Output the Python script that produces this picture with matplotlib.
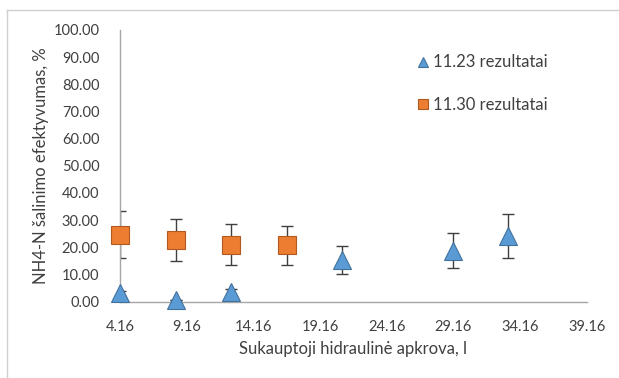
import matplotlib
matplotlib.use("Agg")
import matplotlib.pyplot as plt
from matplotlib.lines import Line2D

plt.rcParams.update({
    "font.family": ["Lato", "DejaVu Sans"],
    "font.size": 10.5,
})

# ---------------------------------------------------------------- data
x_1123 = [4.16, 8.32, 12.48, 20.80, 29.12, 33.28]
y_1123 = [3.0, 0.6, 3.5, 15.3, 18.8, 24.2]
err_1123 = [1.0, 0.0, 1.0, 5.3, 6.6, 8.2]

x_1130 = [4.16, 8.32, 12.48, 16.64]
y_1130 = [24.6, 22.8, 21.0, 20.7]
err_1130 = [8.7, 7.7, 7.4, 7.2]

xticks = [4.16, 9.16, 14.16, 19.16, 24.16, 29.16, 34.16, 39.16]
yticks = [0, 10, 20, 30, 40, 50, 60, 70, 80, 90, 100]

BLUE = "#5b9bd5"
BLUE_E = "#41719c"
ORANGE = "#ed7d31"
ORANGE_E = "#ae5a21"
AXIS_C = "#a6a6a6"
TEXT_C = "#404040"

fig = plt.figure(figsize=(6.19, 3.78), dpi=100)
ax = fig.add_axes([0.194, 0.202, 0.754, 0.719])

# light chart-area edge (only left and top visible in the original crop)
for xs, ys in [([0.012, 0.012], [0.0, 0.973]), ([0.012, 1.0], [0.973, 0.973])]:
    fig.lines.append(Line2D(xs, ys, transform=fig.transFigure,
                            color="#d0d0d0", linewidth=1.0))

ax.errorbar(x_1123, y_1123, yerr=err_1123, fmt="none", ecolor="#404040",
            elinewidth=1.0, capsize=4.2, capthick=1.0, zorder=2)
ax.errorbar(x_1130, y_1130, yerr=err_1130, fmt="none", ecolor="#404040",
            elinewidth=1.0, capsize=4.2, capthick=1.0, zorder=2)
ax.plot(x_1123, y_1123, "^", ms=13, color=BLUE, mec=BLUE_E, mew=0.8,
        linestyle="none", label="11.23 rezultatai", zorder=3, clip_on=False)
ax.plot(x_1130, y_1130, "s", ms=12.5, color=ORANGE, mec=ORANGE_E, mew=0.8,
        linestyle="none", label="11.30 rezultatai", zorder=3, clip_on=False)

ax.set_xlim(4.16, 39.16)
ax.set_ylim(0, 100)
ax.set_xticks(xticks)
ax.set_xticklabels([f"{t:.2f}" for t in xticks])
ax.set_yticks(yticks)
ax.set_yticklabels([f"{t:.2f}" for t in yticks])
ax.tick_params(length=0, colors=TEXT_C, labelsize=10.5)
ax.tick_params(axis="x", pad=13)
ax.tick_params(axis="y", pad=15)

for s in ["top", "right"]:
    ax.spines[s].set_visible(False)
for s in ["left", "bottom"]:
    ax.spines[s].set_color(AXIS_C)
    ax.spines[s].set_linewidth(1.0)

ax.set_xlabel("Sukauptoji hidraulinė apkrova, l", color=TEXT_C, fontsize=12, labelpad=5)
ax.set_ylabel("NH4-N šalinimo efektyvumas, %", color=TEXT_C, fontsize=12, labelpad=3)

leg = ax.legend(loc="upper left", bbox_to_anchor=(0.6, 0.965), frameon=False,
                labelspacing=1.6, handletextpad=0.1, markerscale=0.55,
                fontsize=12, handlelength=1.0)
for t in leg.get_texts():
    t.set_color(TEXT_C)

fig.savefig("out.png", dpi=100)
